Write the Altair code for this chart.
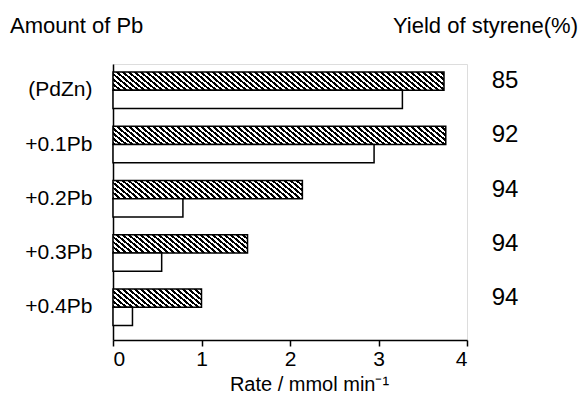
import altair as alt
import pandas as pd

categories = ["(PdZn)", "+0.1Pb", "+0.2Pb", "+0.3Pb", "+0.4Pb"]
rate_hatched = [3.74, 3.76, 2.14, 1.52, 1.00]
rate_open = [3.27, 2.95, 0.79, 0.55, 0.22]
yields = [85, 92, 94, 94, 94]
headers = ["Amount of Pb", "Yield of styrene(%)"]
x_ticks = [0, 1, 2, 3, 4]

W_PLOT = 354
H_PLOT = 276
PX_PER_UNIT = W_PLOT / 4.0
BAR_H = 18.25
FONT = "Liberation Sans"


def hatch_gradient(value, pitch=6.0, slant=1.2, frac=0.5):
    w = max(value * PX_PER_UNIT, 1.0)
    h = BAR_H
    k = (w + slant * h) / (w * w + (slant * h) ** 2)
    n = (w + slant * h) / pitch
    stops = []
    i = 0
    while i < n:
        a = i / n
        b = min((i + frac) / n, 1.0)
        c = min((i + 1) / n, 1.0)
        stops += [
            {"offset": a, "color": "#000000"},
            {"offset": b, "color": "#000000"},
            {"offset": b, "color": "#ffffff"},
            {"offset": c, "color": "#ffffff"},
        ]
        i += 1
    return {
        "gradient": "linear",
        "x1": 0, "y1": 1,
        "x2": k * w, "y2": 1 - k * slant * h,
        "stops": stops,
    }


y_scale = alt.Scale(domain=categories, paddingInner=0.327, paddingOuter=0.207, align=0.356)
yoff_scale = alt.Scale(domain=["h", "o"], paddingInner=0, paddingOuter=0)
x_scale = alt.Scale(domain=[0, 4], nice=False)

x_axis = alt.Axis(
    values=x_ticks, tickSize=6, tickColor="black", domainColor="black",
    tickWidth=1.5, domainWidth=1.5,
    labelFontSize=21, labelColor="black", labelPadding=2, grid=False,
    title="Rate / mmol min\u207b\u00b9", titleFontSize=20, titleFontWeight="normal",
    titleColor="black", titleX=196, titleY=50, titleBaseline="alphabetic",
)
y_axis = alt.Axis(
    title=None, ticks=False, domainColor="black", domainWidth=1.5,
    labelFontSize=21, labelColor="black", labelPadding=21, grid=False,
)

layers = []
for i, cat in enumerate(categories):
    d = pd.DataFrame({"cat": [cat], "rate": [rate_hatched[i]], "series": ["h"]})
    enc = dict(
        x=alt.X("rate:Q", scale=x_scale, axis=x_axis),
        y=alt.Y("cat:N", scale=y_scale, axis=y_axis, sort=categories),
        yOffset=alt.YOffset("series:N", scale=yoff_scale),
    )
    layers.append(
        alt.Chart(d).mark_bar(fill=hatch_gradient(rate_hatched[i]), stroke="black",
                              strokeWidth=1.5, opacity=1).encode(**enc)
    )

df_open = pd.DataFrame({"cat": categories, "rate": rate_open, "series": ["o"] * len(categories)})
open_bars = alt.Chart(df_open).mark_bar(fill="white", stroke="black", strokeWidth=1.5).encode(
    x=alt.X("rate:Q", scale=x_scale, axis=x_axis),
    y=alt.Y("cat:N", scale=y_scale, axis=y_axis, sort=categories),
    yOffset=alt.YOffset("series:N", scale=yoff_scale),
)

df_yield = pd.DataFrame({"cat": categories, "yield": yields, "series": ["h"] * len(categories)})
yield_text = alt.Chart(df_yield).mark_text(
    fontSize=24, align="center", baseline="middle", color="black", font=FONT
).encode(
    x=alt.value(392),
    y=alt.Y("cat:N", scale=y_scale, axis=y_axis, sort=categories),
    yOffset=alt.YOffset("series:N", scale=yoff_scale),
    text="yield:Q",
)

df_h1 = pd.DataFrame({"t": [headers[0]]})
df_h2 = pd.DataFrame({"t": [headers[1]]})
head1 = alt.Chart(df_h1).mark_text(fontSize=22, align="left", baseline="alphabetic",
                                   color="black", font=FONT).encode(
    x=alt.value(-103), y=alt.value(-31), text="t:N")
head2 = alt.Chart(df_h2).mark_text(fontSize=22, align="right", baseline="alphabetic",
                                   color="black", font=FONT).encode(
    x=alt.value(465), y=alt.value(-31), text="t:N")

chart = alt.layer(*layers, open_bars, yield_text, head1, head2).properties(
    width=W_PLOT, height=H_PLOT,
    autosize=alt.AutoSizeParams(type="none"),
    padding={"left": 105, "top": 56, "right": 112, "bottom": 56},
    background="white",
).configure_view(strokeWidth=0).configure(font=FONT)

chart.save("out.html", embed_options={"renderer": "svg", "actions": False})
